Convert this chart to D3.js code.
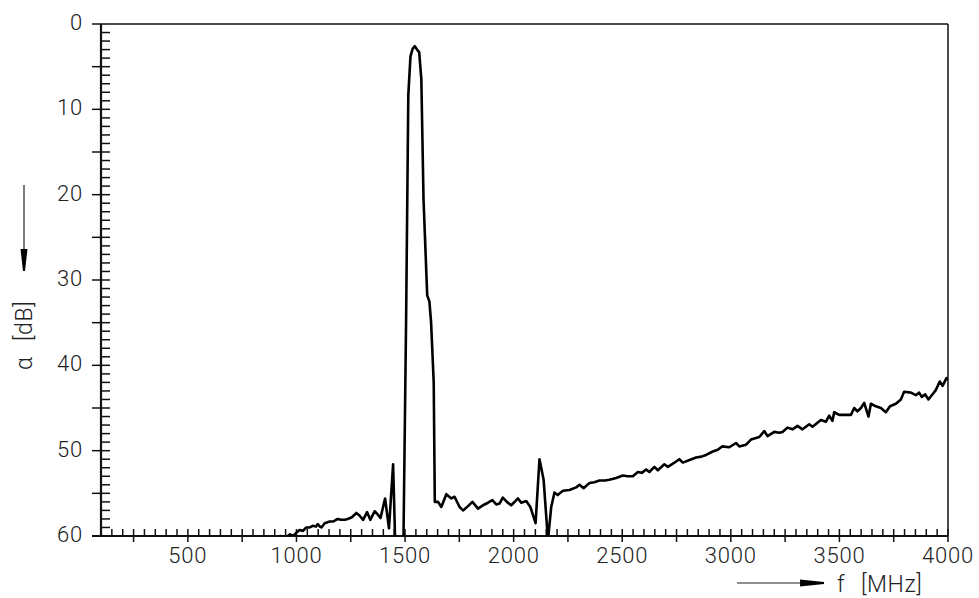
<!DOCTYPE html>
<html>
<head>
<meta charset="utf-8">
<script src="https://cdn.jsdelivr.net/npm/d3@7"></script>
<style>
  body { margin: 0; background: #fff; }
  text { font-family: Roboto, "Liberation Sans", sans-serif; font-weight: 300; fill: #222; }
</style>
</head>
<body>
<svg id="chart" width="979" height="598"></svg>
<script>
// frequency in MHz and attenuation in dB
var freq = [900, 925, 950, 970, 985, 1000, 1015, 1030, 1045, 1061, 1075, 1090, 1098, 1108, 1115, 1130, 1153, 1170, 1190, 1205,
  1222, 1236, 1255, 1276, 1290, 1307, 1325, 1340, 1360, 1375, 1387, 1408, 1426, 1445, 1458, 1475, 1492, 1505, 1515, 1525,
  1535, 1545, 1555, 1565, 1575, 1585, 1602, 1612, 1620, 1632, 1637, 1652, 1667, 1690, 1713, 1728, 1751, 1767, 1790, 1810,
  1836, 1859, 1882, 1902, 1920, 1935, 1950, 1969, 1989, 2020, 2035, 2058, 2077, 2101, 2119, 2138, 2158, 2173, 2188, 2203,
  2227, 2257, 2288, 2303, 2322, 2349, 2372, 2395, 2420, 2441, 2472, 2503, 2525, 2549, 2572, 2590, 2610, 2625, 2648, 2664,
  2694, 2710, 2735, 2763, 2779, 2810, 2840, 2865, 2886, 2917, 2940, 2960, 2993, 3024, 3039, 3070, 3093, 3131, 3154, 3169,
  3200, 3223, 3238, 3261, 3284, 3307, 3330, 3361, 3376, 3415, 3438, 3453, 3468, 3476, 3499, 3525, 3553, 3568, 3583, 3599,
  3614, 3634, 3645, 3668, 3691, 3714, 3733, 3760, 3783, 3798, 3829, 3852, 3867, 3879, 3895, 3910, 3925, 3944, 3962, 3975,
  3993, 4000];
var atten = [60.5, 60.0, 60.2, 59.8, 60.0, 59.6, 59.3, 59.4, 59.0, 59.0, 58.8, 58.9, 58.6, 58.9, 59.0, 58.5, 58.3, 58.3, 58.0, 58.1,
  58.1, 58.0, 57.8, 57.3, 57.6, 58.1, 57.2, 58.1, 57.1, 57.5, 57.9, 55.6, 59.1, 51.6, 64, 66, 62, 34.3, 8.3, 3.8,
  2.9, 2.6, 3.0, 3.3, 6.5, 20.5, 31.8, 32.5, 35, 42, 56.0, 56.0, 56.6, 55.1, 55.6, 55.4, 56.6, 57.0, 56.5, 56.0,
  56.8, 56.4, 56.1, 55.8, 56.3, 56.2, 55.5, 56.0, 56.4, 55.6, 56.1, 55.9, 56.6, 58.5, 51.0, 53.4, 60.5, 56.6, 54.9, 55.2,
  54.7, 54.6, 54.3, 54.0, 54.4, 53.8, 53.7, 53.5, 53.5, 53.4, 53.2, 52.9, 53.0, 53.0, 52.5, 52.6, 52.2, 52.5, 51.9, 52.3,
  51.6, 51.9, 51.5, 51.0, 51.4, 51.1, 50.8, 50.7, 50.5, 50.1, 49.9, 49.5, 49.6, 49.1, 49.5, 49.3, 48.7, 48.4, 47.7, 48.3,
  47.8, 47.9, 47.8, 47.3, 47.5, 47.1, 47.5, 46.9, 47.2, 46.4, 46.6, 45.9, 46.5, 45.5, 45.8, 45.8, 45.8, 45.0, 45.4, 45.0,
  44.4, 46.0, 44.5, 44.8, 45.0, 45.5, 44.8, 44.5, 44.0, 43.1, 43.2, 43.5, 43.2, 43.7, 43.4, 44.0, 43.5, 42.9, 41.9, 42.4,
  41.5, 41.7];

var xLabels = [500, 1000, 1500, 2000, 2500, 3000, 3500, 4000];
var yLabels = [0, 10, 20, 30, 40, 50, 60];

// plot box in pixels
var x0 = 101, x1 = 948, y0 = 24, y1 = 536;
var svg = d3.select("#chart");

var x = d3.scaleLinear().domain([100, 4000]).range([x0, x1]);
var y = d3.scaleLinear().domain([0, 60]).range([y0, y1]);

// clip the curve to the plot box
svg.append("clipPath").attr("id", "clip")
  .append("rect").attr("x", x0).attr("y", y0).attr("width", x1 - x0).attr("height", y1 - y0);

// minor ticks inside the box
var yMinor = d3.range(1, 60).filter(d => d % 5 != 0);
svg.selectAll(".ymin").data(yMinor).enter().append("line")
  .attr("x1", x0).attr("x2", x0 + 9)
  .attr("y1", d => y(d)).attr("y2", d => y(d))
  .attr("stroke", "#111").attr("stroke-width", 1.5);
svg.selectAll(".ymaj").data(d3.range(5, 60, 5)).enter().append("line")
  .attr("x1", x0 - 9).attr("x2", x0 + 9)
  .attr("y1", d => y(d)).attr("y2", d => y(d))
  .attr("stroke", "#111").attr("stroke-width", 1.5);

var xMinor = d3.range(150, 4000, 50).filter(d => d % 250 != 0);
svg.selectAll(".xmin").data(xMinor).enter().append("line")
  .attr("x1", d => x(d)).attr("x2", d => x(d))
  .attr("y1", y1 - 7).attr("y2", y1)
  .attr("stroke", "#111").attr("stroke-width", 1.5);
svg.selectAll(".xmaj").data(d3.range(250, 4001, 250)).enter().append("line")
  .attr("x1", d => x(d)).attr("x2", d => x(d))
  .attr("y1", y1 - 7).attr("y2", y1 + 6)
  .attr("stroke", "#111").attr("stroke-width", 1.5);

// box
svg.append("line").attr("x1", x0 - 9).attr("x2", x1).attr("y1", y0).attr("y2", y0)
  .attr("stroke", "#111").attr("stroke-width", 1.5);
svg.append("line").attr("x1", x1).attr("x2", x1).attr("y1", y0).attr("y2", y1)
  .attr("stroke", "#111").attr("stroke-width", 1.5);
svg.append("line").attr("x1", x0).attr("x2", x0).attr("y1", y0).attr("y2", y1)
  .attr("stroke", "#111").attr("stroke-width", 2.2);
svg.append("line").attr("x1", x0 - 9).attr("x2", x1).attr("y1", y1).attr("y2", y1)
  .attr("stroke", "#111").attr("stroke-width", 2.2);

// tick labels
svg.selectAll(".xl").data(xLabels).enter().append("text")
  .attr("x", d => x(d)).attr("y", y1 + 27)
  .attr("text-anchor", "middle").attr("font-size", 22).attr("letter-spacing", 0.8)
  .text(d => d);
svg.selectAll(".yl").data(yLabels).enter().append("text")
  .attr("x", x0 - 18).attr("y", d => y(d) + 6)
  .attr("text-anchor", "end").attr("font-size", 22).attr("letter-spacing", 0.8)
  .text(d => d);

// the measured curve
var pts = freq.map((f, i) => [f, atten[i]]);
var line = d3.line().x(d => x(d[0])).y(d => y(d[1]));
svg.append("path").datum(pts)
  .attr("clip-path", "url(#clip)")
  .attr("d", line)
  .attr("fill", "none").attr("stroke", "#000").attr("stroke-width", 2.6)
  .attr("stroke-linejoin", "round");

// axis titles with arrows
svg.append("line").attr("x1", 737).attr("x2", 805).attr("y1", 583).attr("y2", 583)
  .attr("stroke", "#222").attr("stroke-width", 1.2);
svg.append("path").attr("d", "M800,579.5 L824,582 L824,584 L800,586.5 Z").attr("fill", "#000");
svg.append("text").attr("x", 837).attr("y", 592).attr("font-size", 23).text("f");
svg.append("text").attr("x", 861).attr("y", 592).attr("font-size", 23).attr("letter-spacing", 0.6).text("[MHz]");

svg.append("line").attr("x1", 24).attr("x2", 24).attr("y1", 185).attr("y2", 255)
  .attr("stroke", "#222").attr("stroke-width", 1.2);
svg.append("path").attr("d", "M20.5,249 L23,271 L25,271 L27.5,249 Z").attr("fill", "#000");
svg.append("text").attr("transform", "translate(32,370) rotate(-90)").attr("font-size", 23).text("α");
svg.append("text").attr("transform", "translate(32,341) rotate(-90)").attr("font-size", 23)
  .attr("letter-spacing", 0.6).text("[dB]");
</script>
</body>
</html>
